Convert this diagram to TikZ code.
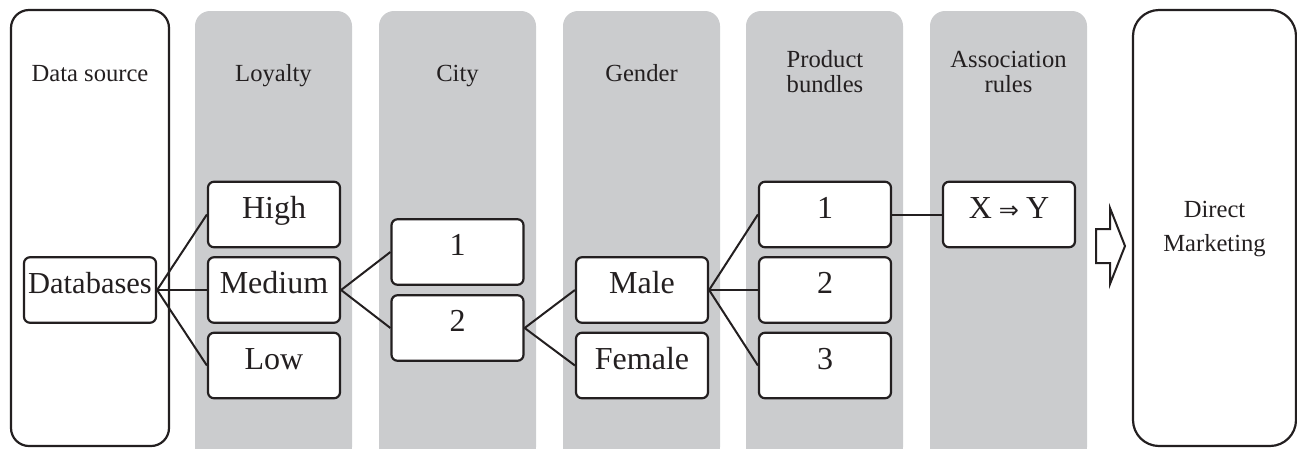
\documentclass[tikz,border=0pt]{standalone}
\usepackage{fontspec}
\setmainfont{Liberation Serif}
\newfontfamily\arrowfont{DejaVu Sans}
\definecolor{colgray}{RGB}{203,204,206}
\definecolor{ink}{RGB}{35,31,32}
\begin{document}
\begin{tikzpicture}[x=1pt,y=-1pt,
  band/.style={fill=colgray,draw=none,rounded corners=15pt},
  outerbox/.style={draw=ink,line width=2.2pt,rounded corners=#1,inner sep=0pt},
  lbl/.style={font=\fontsize{24.6}{25}\selectfont,inner sep=0pt,align=center,text=ink},
  itembox/.style={draw=ink,fill=white,line width=2.2pt,rounded corners=6pt,
    minimum width=132pt,minimum height=65.5pt,inner sep=0pt,
    font=\fontsize{32}{34}\selectfont,text height=16pt,text depth=9pt,text=ink},
  link/.style={draw=ink,line width=2pt}]
\useasboundingbox (0,0) rectangle (1297,448);
% grey columns
\foreach \xl in {195,379,563,746,930}
  \fill[band] (\xl,11) rectangle (\xl+157,462);
% outer boxes
\node[outerbox=18pt,minimum width=158pt,minimum height=436pt] (ds) at (90,228) {};
\node[outerbox=26pt,minimum width=163pt,minimum height=436pt] (dm) at (1214.5,228) {};
% column labels
\node[lbl,anchor=base] (lds) at (90,81) {Data source};
\node[lbl,anchor=base] (lloy) at (273.5,81) {Loyalty};
\node[lbl,anchor=base] (lcity) at (457.5,81) {City};
\node[lbl,anchor=base] (lgen) at (641.5,81) {Gender};
\node[lbl] (lprod) at (825,72) {Product\\bundles};
\node[lbl] (lassoc) at (1008.5,72) {Association\\rules};
\node[lbl,font=\fontsize{24.6}{34}\selectfont] (ldm) at (1214.5,229.5) {Direct\\Marketing};
% item boxes
\node[itembox,font=\fontsize{30.5}{34}\selectfont] (db) at (90,290) {Databases};
\node[itembox] (high) at (274,214.5) {High};
\node[itembox] (medium) at (274,290) {Medium};
\node[itembox] (low) at (274,365.5) {Low};
\node[itembox] (c1) at (457.5,252) {1};
\node[itembox] (c2) at (457.5,328) {2};
\node[itembox] (male) at (642,290) {Male};
\node[itembox] (female) at (642,365.5) {Female};
\node[itembox] (p1) at (825,214.5) {1};
\node[itembox] (p2) at (825,290) {2};
\node[itembox] (p3) at (825,365.5) {3};
\node[itembox] (xy) at (1009,214.5) {X\hspace{0.22em}{\arrowfont\fontsize{24}{24}\selectfont ⇒}\hspace{0.22em}Y};
% connectors
\foreach \t in {high,medium,low} \draw[link] (db.east) -- (\t.west);
\foreach \t in {c1,c2} \draw[link] (medium.east) -- (\t.west);
\foreach \t in {male,female} \draw[link] (c2.east) -- (\t.west);
\foreach \t in {p1,p2,p3} \draw[link] (male.east) -- (\t.west);
\draw[link] (p1.east) -- (xy.west);
% block arrow
\draw[draw=ink,fill=white,line width=2pt,line join=miter]
  (1096,229) -- (1110,229) -- (1110,208) -- (1125,246) -- (1110,284) -- (1110,263) -- (1096,263) -- cycle;
\end{tikzpicture}
\end{document}
